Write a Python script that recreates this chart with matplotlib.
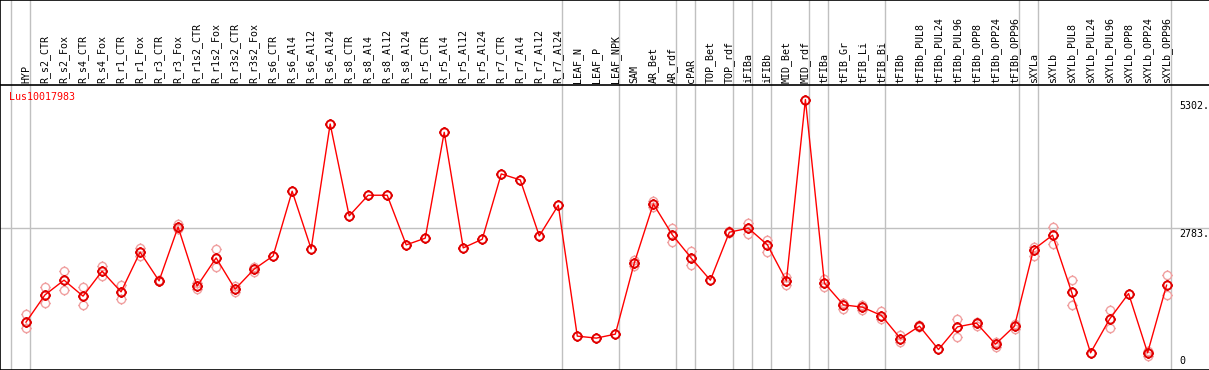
import numpy as np
import matplotlib
matplotlib.use("Agg")
import matplotlib.pyplot as plt
from matplotlib.path import Path

# ---------- data ----------
samples = [
    "HYP", "R_s2_CTR", "R_s2_Fox", "R_s4_CTR", "R_s4_Fox", "R_r1_CTR", "R_r1_Fox",
    "R_r3_CTR", "R_r3_Fox", "R_r1s2_CTR", "R_r1s2_Fox", "R_r3s2_CTR", "R_r3s2_Fox",
    "R_s6_CTR", "R_s6_Al4", "R_s6_Al12", "R_s6_Al24", "R_s8_CTR", "R_s8_Al4",
    "R_s8_Al12", "R_s8_Al24", "R_r5_CTR", "R_r5_Al4", "R_r5_Al12", "R_r5_Al24",
    "R_r7_CTR", "R_r7_Al4", "R_r7_Al12", "R_r7_Al24", "LEAF_N", "LEAF_P", "LEAF_NPK",
    "SAM", "AR_Bet", "AR_rdf", "cPAR", "TOP_Bet", "TOP_rdf", "iFIBa", "iFIBb",
    "MID_Bet", "MID_rdf", "tFIBa", "tFIB_Gr", "tFIB_Li", "tFIB_Bi", "tFIBb",
    "tFIBb_PUL8", "tFIBb_PUL24", "tFIBb_PUL96", "tFIBb_OPP8", "tFIBb_OPP24",
    "tFIBb_OPP96", "sXYLa", "sXYLb", "sXYLb_PUL8", "sXYLb_PUL24", "sXYLb_PUL96",
    "sXYLb_OPP8", "sXYLb_OPP24", "sXYLb_OPP96",
]

mean_expr = [
    938, 1473, 1761, 1448, 1937, 1532, 2310, 1747, 2805, 1644, 2198, 1585, 1977,
    2237, 3505, 2374, 4823, 3021, 3426, 3426, 2453, 2584, 4660, 2394, 2564,
    3844, 3726, 2629, 3230, 664, 625, 703,
    2100, 3256, 2649, 2192, 1761, 2701, 2780, 2453, 1747, 5302,
    1702, 1277, 1232, 1068, 617, 860, 402, 846, 919, 507, 860,
    2361, 2643, 1532, 337, 997, 1499, 337, 1663,
]

nan = np.nan
rep_a = [
    1101, 1630, 1937, 1630, 2041, 1663, 2400, 1760, 2858, 1702, 2374, 1649, 2022,
    nan, nan, nan, nan, nan, nan, nan, nan, nan, nan, nan, nan,
    nan, nan, nan, nan, nan, nan, nan,
    2159, 3315, 2786, 2329, nan, 2721, 2878, 2551, 1832, nan,
    1792, 1311, 1277, 1160, 690, 880, nan, 997, 950, 547, 911,
    2419, 2805, 1761, nan, 1173, nan, 376, 1859,
]
rep_b = [
    833, 1311, 1565, 1271, 1851, 1401, 2243, 1735, 2772, 1591, 2022, 1538, 1930,
    nan, nan, nan, nan, nan, nan, nan, nan, nan, nan, nan, nan,
    nan, nan, nan, nan, nan, nan, nan,
    2041, 3203, 2517, 2067, nan, 2682, 2668, 2321, 1669, nan,
    1636, 1199, 1179, 1003, 547, 840, nan, 656, 866, 460, 807,
    2243, 2478, 1271, nan, 821, nan, 272, 1467,
]

y_labels = [5302, 2783, 0]
gene = "Lus10017983"

# last sample index of each group (vertical separators)
group_ends = [-1, 0, 28, 31, 34, 35, 37, 38, 39, 41, 42, 45, 52, 53, 60]

# circle marker with four short ticks, like the original bitmap glyph
def tick_circle(r1=1.25):
    circ = Path.unit_circle()
    ticks = Path(
        [(0, 1), (0, r1), (0, -1), (0, -r1), (1, 0), (r1, 0), (-1, 0), (-r1, 0)],
        [Path.MOVETO, Path.LINETO] * 4,
    )
    return Path.make_compound_path(circ, ticks)

MARK = tick_circle()

# ---------- figure ----------
W, H = 1209, 370
HEAD = 85
fig = plt.figure(figsize=(W / 100, H / 100), dpi=100)
plt.rcParams['font.family'] = ['DejaVu Sans Mono']

x0_px, step_px = 26, 19.01
xlim = (-x0_px / step_px, (W - x0_px) / step_px)
sep_off = 4 / step_px

ax_h = fig.add_axes([0, (H - HEAD) / H, 1, HEAD / H])
ax = fig.add_axes([0, 0, 1, (H - HEAD) / H])

for a in (ax_h, ax):
    a.set_xlim(*xlim)
    a.set_xticks([])
    a.set_yticks([])
    for s in a.spines.values():
        s.set_color('black')
        s.set_linewidth(1.2)
    a.spines['right'].set_visible(False)
    for g in group_ends:
        a.axvline(g + sep_off, color='#c0c0c0', lw=1, zorder=0)

ax_h.set_ylim(0, HEAD)
ax_h.spines['bottom'].set_visible(False)
x = np.arange(len(samples))
for i, name in enumerate(samples):
    ax_h.text(i, 2, name, rotation=90, ha='center', va='bottom', fontsize=7.2, color='black')

ax.set_ylim(0, 5587)
ax.axhline(2783, color='#c0c0c0', lw=1, zorder=0)

ax.plot(x, rep_a, ls='none', marker=MARK, ms=7.4, mfc='none', mec='#f0a0a0', mew=1, zorder=2)
ax.plot(x, rep_b, ls='none', marker=MARK, ms=7.4, mfc='none', mec='#f0a0a0', mew=1, zorder=2)
ax.plot(x, mean_expr, '-', color='#ff0000', lw=1, zorder=3)
ax.plot(x, mean_expr, ls='none', marker=MARK, ms=7.4, mfc='none', mec='#e00000', mew=1.4, zorder=4)

ax.text(9 / W, 1 - 11.7 / (H - HEAD), gene, transform=ax.transAxes, color='red',
        fontsize=7.2, ha='left', va='center')

lx = 1179 / W
ax.annotate(f"{y_labels[0]}.", (lx, y_labels[0]), xycoords=('axes fraction', 'data'),
            xytext=(0, -1), textcoords='offset pixels', ha='left', va='top', fontsize=7.2)
ax.annotate(f"{y_labels[1]}.", (lx, y_labels[1]), xycoords=('axes fraction', 'data'),
            xytext=(0, -1), textcoords='offset pixels', ha='left', va='top', fontsize=7.2)
ax.annotate(f"{y_labels[2]}", (lx, y_labels[2]), xycoords=('axes fraction', 'data'),
            xytext=(0, 4), textcoords='offset pixels', ha='left', va='bottom', fontsize=7.2)

fig.savefig("out.png", dpi=100)
